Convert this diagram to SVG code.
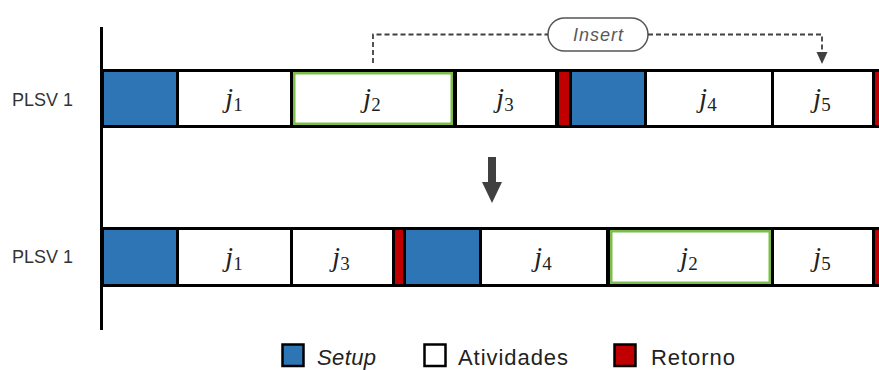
<svg xmlns="http://www.w3.org/2000/svg" width="879" height="370" viewBox="0 0 879 370">
  <style>
    .row { fill: #000; }
    .setup { fill: #2E75B6; }
    .task { fill: #fff; }
    .ret { fill: #C00000; }
    .moved { fill: #fff; stroke: #7DBE4A; stroke-width: 2.5; }
    .job { font-family: "Liberation Serif", "DejaVu Serif", serif; font-size: 28px; fill: #222; text-anchor: middle; }
    .job .j { font-style: italic; }
    .job .sub { font-size: 19px; }
    .lbl { font-family: "Liberation Sans", Arial, sans-serif; font-size: 18px; fill: #333; }
    .leg { font-family: "Liberation Sans", Arial, sans-serif; font-size: 22px; fill: #222; }
    .legbox { stroke: #000; stroke-width: 2.5; }
    .dash { fill: none; stroke: #404040; stroke-width: 1.8; stroke-dasharray: 5 3; }
  </style>

  <!-- machine labels -->
  <text class="lbl" x="12" y="106">PLSV 1</text>
  <text class="lbl" x="12" y="263">PLSV 1</text>

  <!-- schedule before the move -->
  <g id="row-before">
    <rect class="row" x="102" y="69" width="777" height="59"/>
    <g id="b-setup1"><rect class="setup" x="104" y="72" width="72" height="53"/></g>
    <g id="b-j1"><rect class="task" x="179" y="72" width="111" height="53"/>
      <text class="job" x="234" y="107"><tspan class="j">j</tspan><tspan class="sub" dy="4">1</tspan></text></g>
    <g id="b-j2"><rect class="task" x="293" y="72" width="160" height="53"/>
      <rect class="moved" x="294.25" y="73.25" width="157.5" height="50.5"/>
      <text class="job" x="372" y="107"><tspan class="j">j</tspan><tspan class="sub" dy="4">2</tspan></text></g>
    <g id="b-j3"><rect class="task" x="457" y="72" width="98" height="53"/>
      <text class="job" x="505" y="107"><tspan class="j">j</tspan><tspan class="sub" dy="4">3</tspan></text></g>
    <g id="b-ret1"><rect class="ret" x="559" y="72" width="10" height="53"/></g>
    <g id="b-setup2"><rect class="setup" x="572" y="72" width="72" height="53"/></g>
    <g id="b-j4"><rect class="task" x="647" y="72" width="124" height="53"/>
      <text class="job" x="708" y="107"><tspan class="j">j</tspan><tspan class="sub" dy="4">4</tspan></text></g>
    <g id="b-j5"><rect class="task" x="774" y="72" width="98" height="53"/>
      <text class="job" x="822" y="107"><tspan class="j">j</tspan><tspan class="sub" dy="4">5</tspan></text></g>
    <g id="b-ret2"><rect class="ret" x="875" y="72" width="6" height="53"/></g>
  </g>

  <!-- schedule after the move -->
  <g id="row-after">
    <rect class="row" x="102" y="227" width="777" height="60"/>
    <g id="a-setup1"><rect class="setup" x="104" y="230" width="72" height="54"/></g>
    <g id="a-j1"><rect class="task" x="179" y="230" width="111" height="54"/>
      <text class="job" x="234" y="266"><tspan class="j">j</tspan><tspan class="sub" dy="4">1</tspan></text></g>
    <g id="a-j3"><rect class="task" x="293" y="230" width="99" height="54"/>
      <text class="job" x="341" y="266"><tspan class="j">j</tspan><tspan class="sub" dy="4">3</tspan></text></g>
    <g id="a-ret1"><rect class="ret" x="395" y="230" width="8" height="54"/></g>
    <g id="a-setup2"><rect class="setup" x="406" y="230" width="73" height="54"/></g>
    <g id="a-j4"><rect class="task" x="482" y="230" width="124" height="54"/>
      <text class="job" x="543" y="266"><tspan class="j">j</tspan><tspan class="sub" dy="4">4</tspan></text></g>
    <g id="a-j2"><rect class="task" x="610" y="230" width="161" height="54"/>
      <rect class="moved" x="611.25" y="231.25" width="158.5" height="51.5"/>
      <text class="job" x="689" y="266"><tspan class="j">j</tspan><tspan class="sub" dy="4">2</tspan></text></g>
    <g id="a-j5"><rect class="task" x="774" y="230" width="98" height="54"/>
      <text class="job" x="822" y="266"><tspan class="j">j</tspan><tspan class="sub" dy="4">5</tspan></text></g>
    <g id="a-ret2"><rect class="ret" x="875" y="230" width="6" height="54"/></g>
  </g>

  <!-- time axis -->
  <line x1="101.5" y1="27" x2="101.5" y2="330" stroke="#000" stroke-width="3"/>

  <!-- insert move label -->
  <g id="insert">
    <rect x="548" y="18" width="100" height="33" rx="16.5" fill="#fff" stroke="#555" stroke-width="1.5"/>
    <text x="573" y="41" font-family="Liberation Sans, Arial, sans-serif" font-size="18" font-style="italic" fill="#595959" textLength="50">Insert</text>
  </g>

  <g id="connectors">
    <path class="dash" d="M373,63 V34.5 H548"/>
    <path class="dash" d="M648,34.5 H822 V53"/>
    <polygon points="816.5,52 827.5,52 822,64" fill="#404040"/>
    <polygon points="488,157 496,157 496,182 502,182 492,203 482,182 488,182" fill="#404040"/>
  </g>

  <!-- legend -->
  <g id="legend">
    <rect class="legbox" x="282.5" y="344.5" width="21" height="21.5" fill="#2E75B6"/>
    <text class="leg" x="317" y="365" font-style="italic" textLength="59">Setup</text>
    <rect class="legbox" x="424.5" y="344.5" width="21" height="21.5" fill="#fff"/>
    <text class="leg" x="458" y="365" textLength="110">Atividades</text>
    <rect class="legbox" x="614.5" y="344.5" width="21" height="21.5" fill="#C00000"/>
    <text class="leg" x="651" y="365" textLength="84">Retorno</text>
  </g>
</svg>
